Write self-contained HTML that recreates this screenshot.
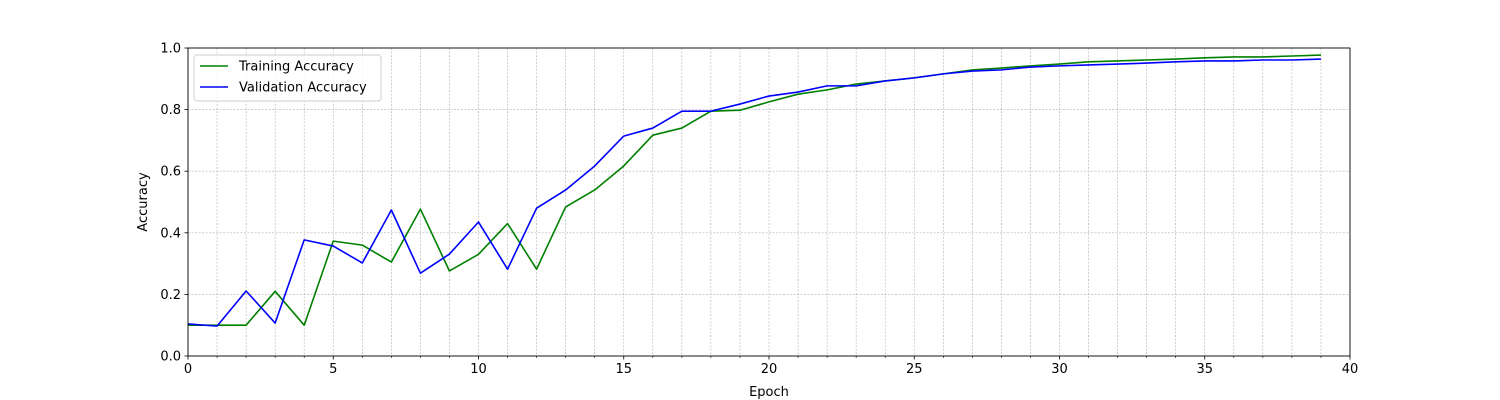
<!DOCTYPE html>
<html><head><meta charset="utf-8"><style>
html,body{margin:0;padding:0;background:#fff;}
svg{display:block;font-family:"DejaVu Sans","Liberation Sans",sans-serif;}
</style></head><body>
<svg id="chart" width="1500" height="400" xmlns="http://www.w3.org/2000/svg"></svg>
<script>
const epochs = [];
for (let i = 0; i < 40; i++) epochs.push(i);
const trainAcc = [0.10,0.10,0.10,0.21,0.10,0.373,0.36,0.305,0.477,0.276,0.33,0.43,0.282,0.484,0.539,0.617,0.717,0.74,0.795,0.798,0.825,0.85,0.864,0.883,0.893,0.903,0.916,0.929,0.935,0.942,0.948,0.955,0.958,0.961,0.964,0.968,0.971,0.971,0.974,0.977];
const valAcc = [0.104,0.097,0.211,0.107,0.377,0.357,0.302,0.474,0.269,0.331,0.435,0.282,0.48,0.539,0.617,0.714,0.74,0.795,0.795,0.818,0.844,0.857,0.877,0.877,0.893,0.903,0.916,0.925,0.929,0.938,0.942,0.945,0.948,0.951,0.955,0.958,0.958,0.961,0.961,0.964];
const xTicks = [0,5,10,15,20,25,30,35,40];
const yTicks = [0.0,0.2,0.4,0.6,0.8,1.0];

const NS = "http://www.w3.org/2000/svg";
const svg = document.getElementById('chart');
const L = 188, R = 1350, T = 48, B = 356;
const xs = v => L + (v - 0) / 40 * (R - L);
const ys = v => B - v * (B - T);
function mk(tag, attrs, parent) {
  const e = document.createElementNS(NS, tag);
  for (const k in attrs) e.setAttribute(k, attrs[k]);
  (parent || svg).appendChild(e);
  return e;
}
// grid
const grid = mk('g', {});


for (let i = 0; i <= 40; i++) {
  mk('line', {x1: xs(i), x2: xs(i), y1: T, y2: B, stroke: '#b0b0b0', 'stroke-width': 0.6, 'stroke-dasharray': '2,1.5'}, grid);
}
for (const t of yTicks) {
  mk('line', {x1: L, x2: R, y1: ys(t), y2: ys(t), stroke: '#b0b0b0', 'stroke-width': 0.6, 'stroke-dasharray': '2,1.5'}, grid);
}
// ticks
const axes = mk('g', {});


for (let i = 0; i <= 40; i++) {
  const major = xTicks.includes(i);
  mk('line', {x1: xs(i), x2: xs(i), y1: B, y2: B + (major ? 3.5 : 2), stroke: '#000', 'stroke-width': major ? 0.8 : 0.6}, axes);
}
for (const t of xTicks) {
  const tx = mk('text', {x: xs(t), y: B + 17, 'text-anchor': 'middle', 'font-size': 13}, axes);
  tx.textContent = t;
  
  
}
for (const t of yTicks) {
  mk('line', {x1: L - 3.5, x2: L, y1: ys(t), y2: ys(t), stroke: '#000', 'stroke-width': 0.8}, axes);
  const tx = mk('text', {x: L - 7, y: ys(t) + 4.5, 'text-anchor': 'end', 'font-size': 13}, axes);
  tx.textContent = t.toFixed(1);
  
  
}
const xt = mk('text', {x: (L + R) / 2, y: 396, 'text-anchor': 'middle', 'font-size': 13});
xt.textContent = 'Epoch';


const yt = mk('text', {x: 147, y: (T + B) / 2, 'text-anchor': 'middle', 'font-size': 13, transform: `rotate(-90 147 ${(T + B) / 2})`});
yt.textContent = 'Accuracy';


// series
function series(data, color, name) {
  const pts = data.map((v, i) => xs(epochs[i]) + ',' + ys(v)).join(' ');
  const p = mk('polyline', {points: pts, fill: 'none', stroke: color, 'stroke-width': 1.6, 'stroke-linejoin': 'round'});
  
  
}
series(trainAcc, '#008000', 'training-accuracy-line');
series(valAcc, '#0000ff', 'validation-accuracy-line');
// frame
const fr = mk('rect', {x: L, y: T, width: R - L, height: B - T, fill: 'none', stroke: '#000', 'stroke-width': 0.9});


// legend
const lg = mk('g', {});


mk('rect', {x: 194, y: 55, width: 187, height: 46, rx: 3, fill: '#fff', 'fill-opacity': 0.8, stroke: '#ccc', 'stroke-width': 0.9}, lg);
const entries = [['Training Accuracy', '#008000', 66], ['Validation Accuracy', '#0000ff', 87]];
for (const [label, c, y] of entries) {
  const ent = mk('g', {}, lg);
  
  
  mk('line', {x1: 200, x2: 228, y1: y, y2: y, stroke: c, 'stroke-width': 1.6}, ent);
  const t = mk('text', {x: 239, y: y + 4.5, 'font-size': 13}, ent);
  t.textContent = label;
}
</script>
</body></html>
